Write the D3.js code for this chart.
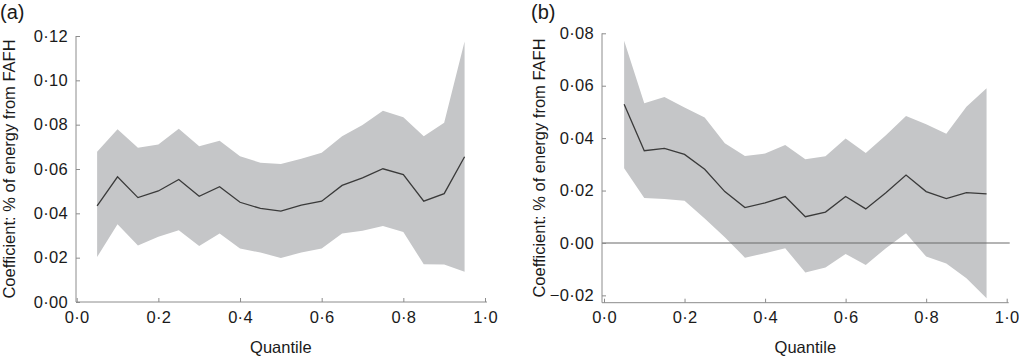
<!DOCTYPE html>
<html>
<head>
<meta charset="utf-8">
<script src="https://cdn.jsdelivr.net/npm/d3@7"></script>
<style>
  body { margin: 0; background: #fff; }
  text { font-family: "Liberation Sans", Arial, sans-serif; fill: #1a1a1a; }
</style>
</head>
<body>
<div id="chart"></div>
<script>
// quantiles shared by both panels
const quantiles = [0.05, 0.10, 0.15, 0.20, 0.25, 0.30, 0.35, 0.40, 0.45, 0.50,
  0.55, 0.60, 0.65, 0.70, 0.75, 0.80, 0.85, 0.90, 0.95];

// panel (a)
const coefA = [0.0434, 0.0565, 0.0471, 0.0501, 0.0553, 0.0477, 0.0520, 0.0450, 0.0422, 0.0410,
  0.0437, 0.0455, 0.0526, 0.0560, 0.0601, 0.0575, 0.0455, 0.0489, 0.0655];
const upperA = [0.0678, 0.0779, 0.0696, 0.0711, 0.0782, 0.0703, 0.0727, 0.0658, 0.0628, 0.0622,
  0.0646, 0.0673, 0.0748, 0.0798, 0.0863, 0.0833, 0.0748, 0.0809, 0.1175];
const lowerA = [0.0203, 0.0351, 0.0255, 0.0294, 0.0324, 0.0253, 0.0309, 0.0241, 0.0223, 0.0199,
  0.0223, 0.0241, 0.0309, 0.0321, 0.0343, 0.0316, 0.0170, 0.0169, 0.0136];
const yTicksA = [0, 0.02, 0.04, 0.06, 0.08, 0.10, 0.12];

// panel (b)
const coefB = [0.0529, 0.0352, 0.0361, 0.0338, 0.0281, 0.0196, 0.0135, 0.0153, 0.0177, 0.0100,
  0.0118, 0.0177, 0.0130, 0.0192, 0.0259, 0.0196, 0.0169, 0.0192, 0.0187];
const upperB = [0.0772, 0.0533, 0.0557, 0.0517, 0.0479, 0.0380, 0.0332, 0.0341, 0.0374, 0.0319,
  0.0331, 0.0399, 0.0343, 0.0411, 0.0484, 0.0453, 0.0417, 0.0520, 0.0590];
const lowerB = [0.0285, 0.0172, 0.0168, 0.0161, 0.0093, 0.0022, -0.0056, -0.0039, -0.0020, -0.0113,
  -0.0094, -0.0042, -0.0084, -0.0020, 0.0037, -0.0052, -0.0078, -0.0135, -0.0211];
const yTicksB = [-0.02, 0, 0.02, 0.04, 0.06, 0.08];

const xTicks = [0, 0.2, 0.4, 0.6, 0.8, 1.0];

const svg = d3.select("#chart")
  .append("svg")
  .attr("width", 1019)
  .attr("height", 358);

// 0·12 style labels, with a long dash for negatives
const fmt = (dec) => (v) => d3.format("." + dec + "f")(v).replace(".", "·").replace("-", "–").replace("–0·00", "0·00");

function drawPanel(opts) {
  const g = svg.append("g");
  const x = d3.scaleLinear().domain([0, 1]).range(opts.xRange);
  const y = d3.scaleLinear().domain(opts.yDomain).range(opts.yRange);

  const rows = quantiles.map((q, i) => ({ q, c: opts.coef[i], lo: opts.lower[i], hi: opts.upper[i] }));

  // confidence band
  g.append("path")
    .datum(rows)
    .attr("fill", "#c5c6c8")
    .attr("d", d3.area().x((d) => x(d.q)).y0((d) => y(d.lo)).y1((d) => y(d.hi)));

  if (opts.zeroLine) {
    g.append("line")
      .attr("x1", opts.axisX).attr("x2", opts.xRange[1] + 3)
      .attr("y1", y(0)).attr("y2", y(0))
      .attr("stroke", "#6a6a6a")
      .attr("stroke-width", 1.1);
  }

  // coefficient line
  g.append("path")
    .datum(rows)
    .attr("fill", "none")
    .attr("stroke", "#3a3a3a")
    .attr("stroke-width", 1.3)
    .attr("d", d3.line().x((d) => x(d.q)).y((d) => y(d.c)));

  // axes
  const yAxis = d3.axisLeft(y).tickValues(opts.yTicks).tickFormat(fmt(2))
    .tickSizeInner(-4).tickSizeOuter(0).tickPadding(8);
  const xAxis = d3.axisBottom(x).tickValues(xTicks).tickFormat(fmt(1))
    .tickSizeInner(-4).tickSizeOuter(0).tickPadding(9);

  const ya = g.append("g")
    .attr("transform", `translate(${opts.axisX},0)`)
    .call(yAxis);
  const xa = g.append("g")
    .attr("transform", `translate(0,${opts.yRange[0]})`)
    .call(xAxis);

  [ya, xa].forEach((a) => {
    a.select(".domain").attr("stroke", "#8c8c8c");
    a.selectAll(".tick line").attr("stroke", "#8c8c8c");
    a.selectAll(".tick text")
      .style("font-size", "16.5px")
      .style("letter-spacing", "0.3px")
      .attr("fill", "#1a1a1a");
  });
  ya.select(".domain").attr("d", `M0,${opts.yRange[1]}V${opts.yRange[0]}`);
  xa.select(".domain").attr("d", `M${opts.axisX},0H${opts.xRange[1] + 2}`);

  // titles
  svg.append("text")
    .attr("transform", `translate(${opts.titleX},${(opts.yRange[0] + opts.yRange[1]) / 2}) rotate(-90)`)
    .attr("text-anchor", "middle")
    .style("font-size", "16.5px")
    .text("Coefficient: % of energy from FAFH");

  svg.append("text")
    .attr("x", (opts.xRange[0] + opts.xRange[1]) / 2)
    .attr("y", 353)
    .attr("text-anchor", "middle")
    .style("font-size", "16.5px")
    .text("Quantile");

  svg.append("text")
    .attr("x", opts.labelX)
    .attr("y", 19)
    .style("font-size", "20px")
    .text(opts.label);
}

drawPanel({
  label: "(a)", labelX: 0, titleX: 15,
  coef: coefA, lower: lowerA, upper: upperA, yTicks: yTicksA,
  xRange: [76.7, 485], yDomain: [0, 0.12], yRange: [302, 36], axisX: 76
});

drawPanel({
  label: "(b)", labelX: 531, titleX: 545,
  coef: coefB, lower: lowerB, upper: upperB, yTicks: yTicksB,
  xRange: [604, 1006.7], yDomain: [-0.0228, 0.08], yRange: [302.7, 33.3], axisX: 602,
  zeroLine: true
});
</script>
</body>
</html>
